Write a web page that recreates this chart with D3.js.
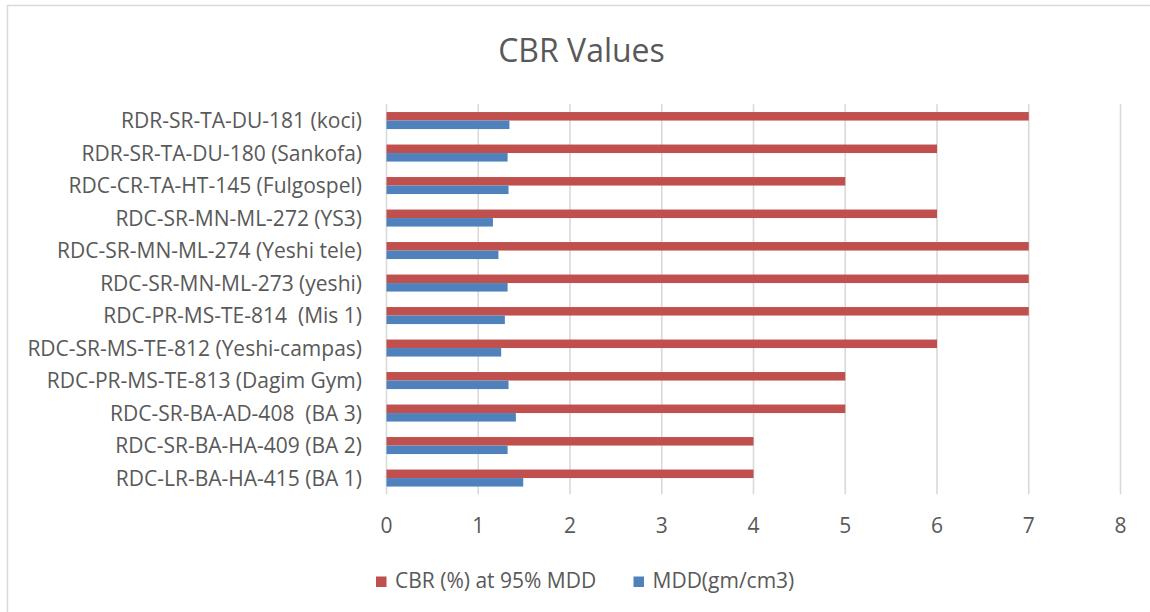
<!DOCTYPE html>
<html>
<head>
<meta charset="utf-8">
<script src="https://cdn.jsdelivr.net/npm/d3@7"></script>
<style>
  body { margin: 0; background: #fff; }
  text { font-family: "Open Sans", sans-serif; fill: #595959; }
</style>
</head>
<body>
<div id="chart-area"></div>
<script>
// data, top row first
var sites = [
	"RDR-SR-TA-DU-181 (koci)",
	"RDR-SR-TA-DU-180 (Sankofa)",
	"RDC-CR-TA-HT-145 (Fulgospel)",
	"RDC-SR-MN-ML-272 (YS3)",
	"RDC-SR-MN-ML-274 (Yeshi tele)",
	"RDC-SR-MN-ML-273 (yeshi)",
	"RDC-PR-MS-TE-814  (Mis 1)",
	"RDC-SR-MS-TE-812 (Yeshi-campas)",
	"RDC-PR-MS-TE-813 (Dagim Gym)",
	"RDC-SR-BA-AD-408  (BA 3)",
	"RDC-SR-BA-HA-409 (BA 2)",
	"RDC-LR-BA-HA-415 (BA 1)"
]
var cbr = [7, 6, 5, 6, 7, 7, 7, 6, 5, 5, 4, 4]
var mdd = [1.34, 1.32, 1.33, 1.16, 1.22, 1.32, 1.29, 1.25, 1.33, 1.41, 1.32, 1.49]
var xTicks = [0, 1, 2, 3, 4, 5, 6, 7, 8]
var seriesNames = ["CBR (%) at 95% MDD", "MDD(gm/cm3)"]
var seriesColors = ["#C0504D", "#4F81BD"]

var width = 1150, height = 612

var svg = d3.select("#chart-area")
	.append("svg")
		.attr("width", width)
		.attr("height", height)

// chart border (only top/left visible in the picture)
svg.append("rect")
	.attr("x", 7.5)
	.attr("y", 5.5)
	.attr("width", width + 20)
	.attr("height", height + 20)
	.attr("fill", "none")
	.attr("stroke", "#d9d9d9")
	.attr("stroke-width", 1.5)

// scales
var x = d3.scaleLinear()
	.domain([0, 8])
	.range([386.5, 1120.5])
var y = d3.scaleBand()
	.domain(sites)
	.range([104.3, 494.3])
var barH = y.bandwidth() / 3.82

// gridlines
svg.append("g")
	.selectAll("line")
	.data(xTicks)
	.enter().append("line")
		.attr("x1", d => x(d))
		.attr("x2", d => x(d))
		.attr("y1", y.range()[0])
		.attr("y2", y.range()[1])
		.attr("stroke", "#d9d9d9")
		.attr("stroke-width", 1.6)

// x tick labels
svg.append("g")
	.selectAll("text")
	.data(xTicks)
	.enter().append("text")
		.attr("x", d => x(d))
		.attr("y", 533)
		.attr("text-anchor", "middle")
		.attr("font-size", "21px")
		.text(d => d)

// category labels
svg.append("g")
	.selectAll("text")
	.data(sites)
	.enter().append("text")
		.attr("x", 362)
		.attr("y", d => y(d) + y.bandwidth() / 2)
		.attr("dy", "0.36em")
		.attr("text-anchor", "end")
		.attr("font-size", "21px")
		.style("white-space", "pre")
		.text(d => d)

// bars: CBR above, MDD below
var bars = svg.append("g")
bars.selectAll("rect.cbr")
	.data(sites)
	.enter().append("rect")
		.attr("class", "cbr")
		.attr("x", x(0))
		.attr("y", d => y(d) + y.bandwidth() / 2 - barH)
		.attr("width", (d, i) => x(cbr[i]) - x(0))
		.attr("height", barH)
		.attr("fill", seriesColors[0])
bars.selectAll("rect.mdd")
	.data(sites)
	.enter().append("rect")
		.attr("class", "mdd")
		.attr("x", x(0))
		.attr("y", d => y(d) + y.bandwidth() / 2)
		.attr("width", (d, i) => x(mdd[i]) - x(0))
		.attr("height", barH)
		.attr("fill", seriesColors[1])

// title
svg.append("text")
	.attr("x", 581.5)
	.attr("y", 61.5)
	.attr("text-anchor", "middle")
	.attr("font-size", "32px")
	.text("CBR Values")

// legend
var legendX = [376, 633.5]
seriesNames.forEach((name, i) => {
	var row = svg.append("g")
		.attr("transform", "translate(" + legendX[i] + ", 576.5)")
	row.append("rect")
		.attr("width", 10.5)
		.attr("height", 10.5)
		.attr("fill", seriesColors[i])
	row.append("text")
		.attr("x", 19)
		.attr("y", 11.5)
		.attr("font-size", "21px")
		.text(name)
})
</script>
</body>
</html>
